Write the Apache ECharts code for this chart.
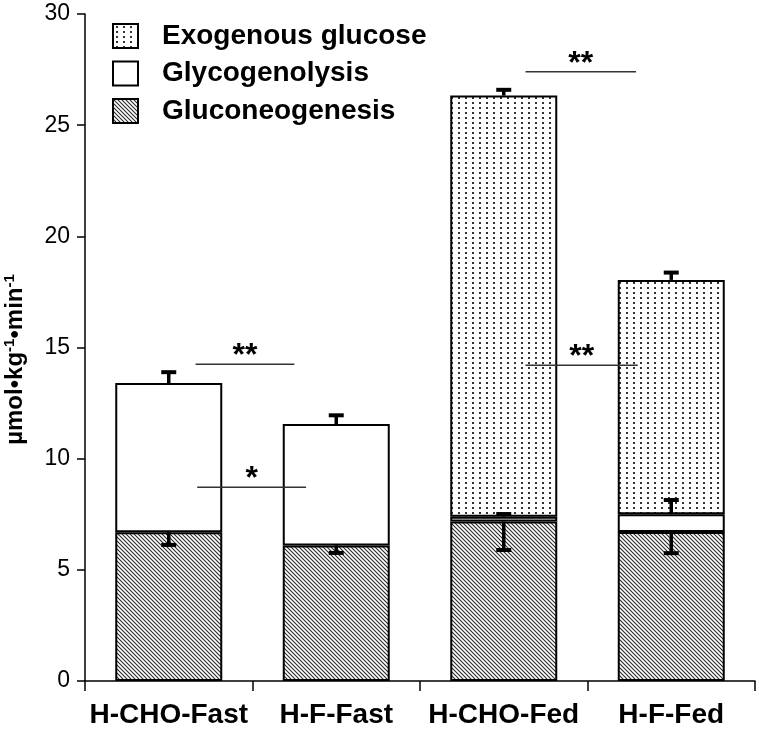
<!DOCTYPE html>
<html>
<head>
<meta charset="utf-8">
<script src="https://cdn.jsdelivr.net/npm/echarts@6/dist/echarts.min.js"></script>
<style>
html,body{margin:0;padding:0;background:#fff;}
#chart{width:759px;height:730px;}
</style>
</head>
<body>
<div id="chart"></div>
<script>
// ---- data ----
const categories = ['H-CHO-Fast', 'H-F-Fast', 'H-CHO-Fed', 'H-F-Fed'];
const gluconeogenesis = [6.69, 6.10, 7.17, 6.70];
const glycogenolysis = [6.71, 5.46, 0.22, 0.80];
const exogenousGlucose = [null, null, 18.94, 10.54];
const gluconeogenesisSE = [0.57, 0.34, 1.28, 0.95];
const glycogenolysisSE = [0.49, 0.39, 0.12, 0.64];
const exogenousSE = [null, null, 0.26, 0.33];
const sigStart = [0.16, 0.17, 2.13, 2.13];
const sigEnd = [0.75, 0.82, 2.80, 2.79];
const sigLevel = [14.25, 8.72, 14.2, 27.4];
const sigText = ['**', '*', '**', '**'];
const yMin = 0, yMax = 30, yStep = 5;

// ---- patterns ----
function hatchPattern() {
  const s = 4;
  const c = document.createElement('canvas');
  c.width = s; c.height = s;
  const ctx = c.getContext('2d');
  ctx.fillStyle = '#fff';
  ctx.fillRect(0, 0, s, s);
  ctx.strokeStyle = '#2a2a2a';
  ctx.lineWidth = 1.1;
  ctx.beginPath();
  ctx.moveTo(-1, -1); ctx.lineTo(s + 1, s + 1);
  ctx.moveTo(-1, s - 1); ctx.lineTo(1, s + 1);
  ctx.moveTo(s - 1, -1); ctx.lineTo(s + 1, 1);
  ctx.stroke();
  return c;
}
function dotPattern() {
  const c = document.createElement('canvas');
  c.width = 7; c.height = 5;
  const ctx = c.getContext('2d');
  ctx.fillStyle = '#fff';
  ctx.fillRect(0, 0, 7, 5);
  ctx.fillStyle = '#333';
  ctx.fillRect(3, 2, 2, 2);
  return c;
}
const hatchFill = { image: hatchPattern(), repeat: 'repeat' };
const dotFill = { image: dotPattern(), repeat: 'repeat' };

// ---- error bar data ----
const errData = [];
categories.forEach((c, i) => {
  const g = gluconeogenesis[i];
  const t1 = g + glycogenolysis[i];
  errData.push([i, g, g - gluconeogenesisSE[i]]);
  errData.push([i, t1, t1 + glycogenolysisSE[i]]);
  if (exogenousGlucose[i] != null) {
    const t2 = t1 + exogenousGlucose[i];
    errData.push([i, t2, t2 + exogenousSE[i]]);
  }
});
const sigData = sigStart.map((s, i) => [s, sigEnd[i], sigLevel[i], sigText[i]]);

const FONT = '"Liberation Sans", Arial, sans-serif';
const barStyle = (fill) => ({ color: fill, borderColor: '#000', borderWidth: 2 });

const chart = echarts.init(document.getElementById('chart'), null, { renderer: 'canvas' });
chart.setOption({
  animation: false,
  backgroundColor: '#fff',
  textStyle: { fontFamily: FONT },
  grid: { left: 85, right: 4, top: 14, bottom: 49, outerBoundsMode: 'none', containLabel: false },
  legend: {
    orient: 'vertical',
    left: 107, top: 17,
    icon: 'rect',
    itemWidth: 25, itemHeight: 24, itemGap: 9.5,
    data: ['Exogenous glucose', 'Glycogenolysis', 'Gluconeogenesis'],
    itemStyle: { borderColor: '#000', borderWidth: 2 },
    textStyle: { fontFamily: FONT, fontSize: 28, fontWeight: 'bold', color: '#000', padding: [0, 0, 0, 19] },
    selectedMode: false
  },
  xAxis: [{
    type: 'category',
    data: categories,
    axisLine: { lineStyle: { color: '#000', width: 1.5 } },
    axisTick: { show: true, interval: 0, length: 10, lineStyle: { color: '#000', width: 1.5 } },
    axisLabel: { interval: 0, fontFamily: FONT, fontSize: 28, fontWeight: 'bold', color: '#000', margin: 20 }
  }, {
    type: 'value', min: -0.5, max: 3.5, show: false
  }],
  yAxis: {
    type: 'value', min: yMin, max: yMax, interval: yStep,
    splitLine: { show: false },
    axisLine: { show: true, onZero: false, lineStyle: { color: '#000', width: 1.5 } },
    axisTick: { show: true, length: 8, lineStyle: { color: '#000', width: 1.5 } },
    axisLabel: { fontFamily: FONT, fontSize: 23, color: '#000', margin: 15 },
    name: '\u00b5mol\u2022kg{sup|-1}\u2022min{sup|-1}',
    nameLocation: 'middle',
    nameRotate: 90,
    nameGap: 57,
    nameTextStyle: {
      fontFamily: FONT, fontSize: 24, fontWeight: 'bold', color: '#000', lineHeight: 26,
      padding: [0, 24, 0, 0],
      rich: { sup: { fontFamily: FONT, fontSize: 15, fontWeight: 'bold', color: '#000', verticalAlign: 'top', lineHeight: 15 } }
    }
  },
  series: [
    { name: 'Gluconeogenesis', type: 'bar', stack: 'a', barWidth: 107, data: gluconeogenesis, itemStyle: barStyle(hatchFill) },
    { name: 'Glycogenolysis', type: 'bar', stack: 'a', barWidth: 107, data: glycogenolysis, itemStyle: barStyle('#fff') },
    { name: 'Exogenous glucose', type: 'bar', stack: 'a', barWidth: 107, data: exogenousGlucose, itemStyle: barStyle(dotFill) },
    {
      type: 'custom', xAxisIndex: 1, z: 10,
      data: errData,
      encode: { x: 0, y: [1, 2] },
      renderItem: function (params, api) {
        const p0 = api.coord([api.value(0), api.value(1)]);
        const p1 = api.coord([api.value(0), api.value(2)]);
        return {
          type: 'group', children: [
            { type: 'line', shape: { x1: p0[0], y1: p0[1], x2: p1[0], y2: p1[1] }, style: { stroke: '#000', lineWidth: 3.5 } },
            { type: 'line', shape: { x1: p0[0] - 7.5, y1: p1[1], x2: p0[0] + 7.5, y2: p1[1] }, style: { stroke: '#000', lineWidth: 4 } }
          ]
        };
      }
    },
    {
      type: 'custom', xAxisIndex: 1, z: 11,
      data: sigData,
      encode: { x: [0, 1], y: 2 },
      renderItem: function (params, api) {
        const a = api.coord([api.value(0), api.value(2)]);
        const b = api.coord([api.value(1), api.value(2)]);
        const label = sigData[params.dataIndex][3];
        return {
          type: 'group', children: [
            { type: 'line', shape: { x1: a[0], y1: a[1], x2: b[0], y2: b[1] }, style: { stroke: '#333', lineWidth: 1.5 } },
            { type: 'text', x: (a[0] + b[0]) / 2, y: a[1] - 8,
              style: { text: label, fontFamily: FONT, fontSize: 32, fontWeight: 'bold', fill: '#000', align: 'center', verticalAlign: 'middle' } }
          ]
        };
      }
    }
  ]
});
</script>
</body>
</html>
